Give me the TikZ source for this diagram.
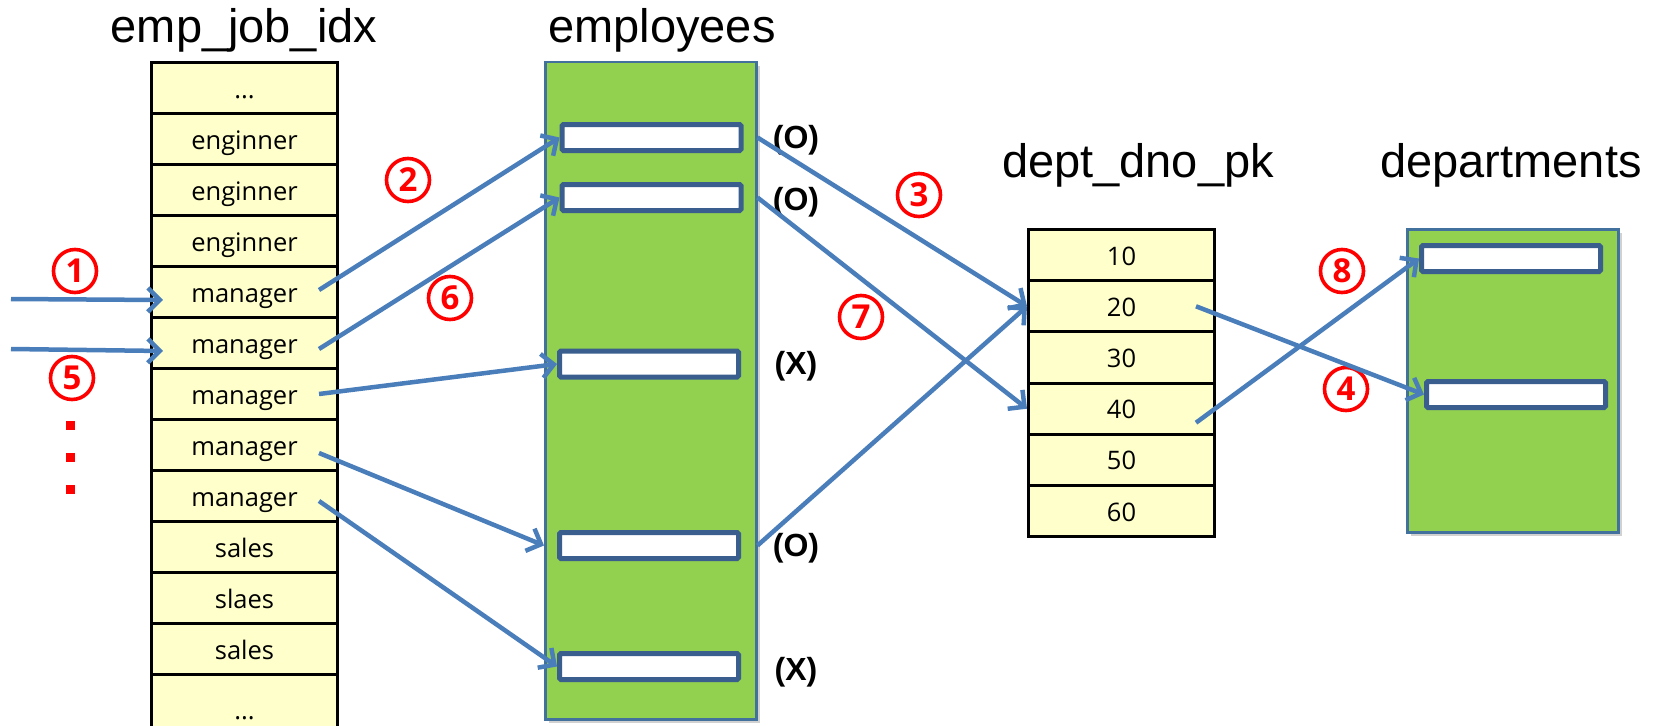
\documentclass[tikz,border=0pt]{standalone}
\usepackage{fontspec}
\setmainfont{Liberation Sans}
\newfontfamily\cellfont{Open Sans}
\usetikzlibrary{arrows.meta,shadows}
\definecolor{cellyellow}{HTML}{FFFFCC}
\definecolor{boxgreen}{HTML}{92D050}
\definecolor{boxedge}{HTML}{41719C}
\definecolor{innerblue}{HTML}{3A5F8F}
\definecolor{arrowblue}{HTML}{4A7EBB}
\definecolor{markred}{HTML}{FF0000}
\begin{document}
\begin{tikzpicture}[x=1pt,y=-1pt,
  cell/.style={draw=black, line width=3pt, fill=cellyellow, minimum width=186pt,
    inner sep=0pt, text height=22pt, text depth=2pt,
    font=\cellfont\fontsize{25.5}{27}\selectfont, anchor=north west},
  greenbox/.style={draw=boxedge, line width=2.5pt, fill=boxgreen, inner sep=0pt, anchor=north west,
    drop shadow={shadow xshift=4pt, shadow yshift=-4pt, opacity=0.3, fill=black!60}},
  slot/.style={draw=innerblue, line width=5pt, fill=white, rounded corners=1.5pt,
    minimum width=179pt, minimum height=26pt, inner sep=0pt},
  title/.style={font=\fontsize{47}{50}\selectfont, anchor=base, inner sep=0pt},
  okmark/.style={font=\bfseries\fontsize{32}{34}\selectfont, inner sep=0pt},
  num/.style={circle, draw=markred, line width=3.6pt, minimum size=43pt, inner sep=0pt,
    text=markred, font=\cellfont\bfseries\fontsize{33}{33}\selectfont},
  conn/.style={draw=arrowblue, line width=4.5pt, -{Straight Barb[length=12pt,width=24pt,line width=4.5pt]}},
  reddot/.style={fill=markred, minimum width=9pt, minimum height=9pt, inner sep=0pt}
]
\useasboundingbox (0,0) rectangle (1661,725);

% titles
\node[title] (t1) at (244,43) {emp\_job\_idx};
\node[title] (t2) at (662,43) {employees};
\node[title] (t3) at (1138,177) {dept\_dno\_pk};
\node[title] (t4) at (1511,177) {departments};

% emp_job_idx index
\node[cell, minimum height=51pt] (j0) at (150,61) {...};
\foreach \txt [count=\i from 1] in {enginner,enginner,enginner,manager,manager,manager,manager,manager,sales,slaes,sales}
  \node[cell, minimum height=51pt] (j\i) at (150,{61+51*\i}) {\txt};
\node[cell, minimum height=60pt, text height=31pt] (j12) at (150,673) {...};

% employees table
\node[greenbox, minimum width=211pt, minimum height=657pt] (emp) at (544,61) {};
\node[slot] (e1) at (651.5,137.5) {};
\node[slot] (e2) at (651.5,197.5) {};
\node[slot] (e3) at (649,364) {};
\node[slot] (e4) at (649,545.5) {};
\node[slot] (e5) at (649,666.5) {};

\node[okmark] (m1) at (796,140) {(O)};
\node[okmark] (m2) at (796,202) {(O)};
\node[okmark] (m3) at (796,366) {(X)};
\node[okmark] (m4) at (796,548) {(O)};
\node[okmark] (m5) at (796,672) {(X)};

% dept_dno_pk index
\foreach \txt [count=\i from 0] in {10,20,30,40,50,60}
  \node[cell, minimum height=51.2pt] (d\i) at (1027,{228+51.2*\i}) {\txt};

% departments table
\node[greenbox, minimum width=211pt, minimum height=303pt] (dep) at (1406,228) {};
\node[slot] (p1) at (1511,258.5) {};
\node[slot] (p2) at (1516,394.5) {};

% circled step numbers
\node[num] (n1) at (75,271) {1};
\node[num] (n2) at (408,180) {2};
\node[num] (n3) at (919,195) {3};
\node[num] (n4) at (1346,389) {4};
\node[num] (n5) at (72,378) {5};
\node[num] (n6) at (450,298) {6};
\node[num] (n7) at (861,317) {7};
\node[num] (n8) at (1342,271) {8};

% red dots
\node[reddot] (r1) at (70,425) {};
\node[reddot] (r2) at (70,457) {};
\node[reddot] (r3) at (70,489) {};

% incoming arrows
\coordinate (s1) at (11,299);
\coordinate (s5) at (11,349);
\draw[conn] (s1) -- ([xshift=13pt,yshift=-8pt]j4.west);
\draw[conn] (s5) -- ([xshift=13pt,yshift=-8pt]j5.west);

% index -> employees
\draw[conn] ([xshift=-20pt,yshift=2pt]j4.east) -- (e1.west);
\draw[conn] ([xshift=-20pt,yshift=-6pt]j5.east) -- (e2.west);
\draw[conn] ([xshift=-20pt]j6.east) -- (e3.west);
\draw[conn] ([xshift=-20pt,yshift=-8pt]j7.east) -- (e4.west -| emp.west);
\draw[conn] ([xshift=-20pt,yshift=-5pt]j8.east) -- (e5.west);

% employees -> dept index
\draw[conn] (e1.east -| emp.east) -- (d1.west);
\draw[conn] (e2.east -| emp.east) -- (d3.west);
\draw[conn] (e4.east -| emp.east) -- (d1.west);

% dept index -> departments
\draw[conn] ([xshift=-20pt]d1.east) -- (p2.west);
\draw[conn] ([xshift=-20pt,yshift=-14pt]d3.east) -- (p1.west);
\end{tikzpicture}
\end{document}
